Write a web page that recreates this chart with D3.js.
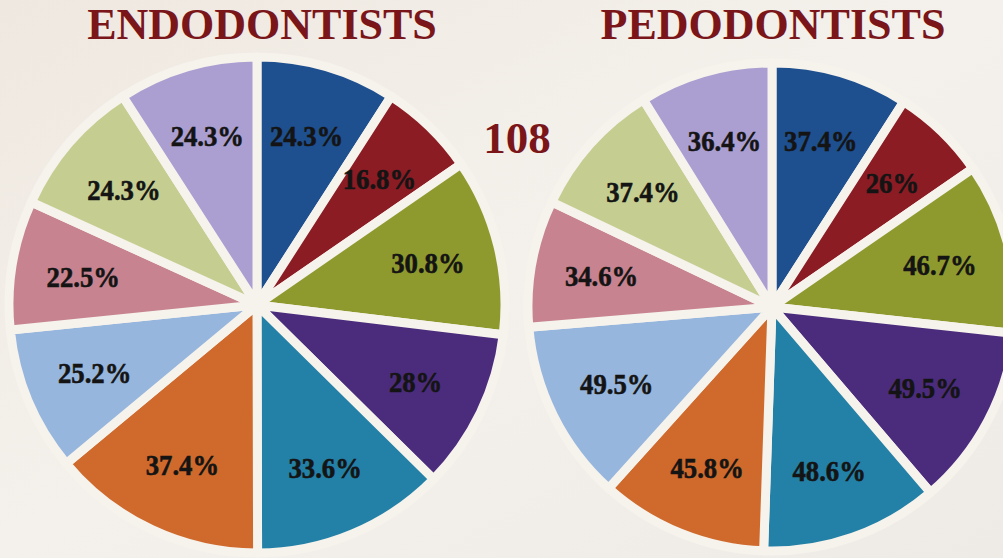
<!DOCTYPE html>
<html>
<head>
<meta charset="utf-8">
<script src="https://cdn.jsdelivr.net/npm/d3@7"></script>
<style>
  html, body { margin: 0; padding: 0; background: #f1ece6; }
  svg { display: block; }
</style>
</head>
<body>
<svg id="chart" width="1003" height="558"></svg>
<script>
// ---- data ----
const categories = ["c1", "c2", "c3", "c4", "c5", "c6", "c7", "c8", "c9", "c10"];
const endoValues = [24.3, 16.8, 30.8, 28, 33.6, 37.4, 25.2, 22.5, 24.3, 24.3];
const pedoValues = [37.4, 26, 46.7, 49.5, 48.6, 45.8, 49.5, 34.6, 37.4, 36.4];
const titles = ["ENDODONTISTS", "PEDODONTISTS"];
const centerNote = "108";
const palette = ["#1e4f8e", "#8b1c24", "#8f9a2e", "#4b2c7c", "#2380a6",
                 "#cf6a2c", "#97b6dd", "#c7838f", "#c5ce90", "#ab9fd2"];

// ---- drawing ----
const svg = d3.select("#chart");
const W = 1003, H = 558;
const serif = "'Liberation Serif', 'Times New Roman', Times, serif";

const defs = svg.append("defs");
const bg = defs.append("linearGradient").attr("id", "bg")
  .attr("x1", "0").attr("y1", "0").attr("x2", "1").attr("y2", "1");
bg.append("stop").attr("offset", "0").attr("stop-color", "#efe8e0");
bg.append("stop").attr("offset", "0.5").attr("stop-color", "#f4f1ec");
bg.append("stop").attr("offset", "1").attr("stop-color", "#eeeae6");
svg.append("rect").attr("width", W).attr("height", H).attr("fill", "url(#bg)");

const color = d3.scaleOrdinal().domain(categories).range(palette);
const pie = d3.pie().sort(null).value(d => d.v);

const pies = [
  { values: endoValues, cx: 257, cy: 305, r: 248, title: titles[0], tx: 262 },
  { values: pedoValues, cx: 772, cy: 307, r: 244, title: titles[1], tx: 773 }
];

pies.forEach(p => {
  const data = categories.map((c, i) => ({ c, v: p.values[i] }));
  const arcs = pie(data);
  const arc = d3.arc().innerRadius(0).outerRadius(p.r);
  const labelArc = d3.arc().innerRadius(p.r * 0.71).outerRadius(p.r * 0.71);
  const g = svg.append("g").attr("transform", `translate(${p.cx},${p.cy})`);

  g.selectAll("path.slice").data(arcs).join("path")
    .attr("class", "slice")
    .attr("d", arc)
    .attr("fill", d => color(d.data.c))
    .attr("stroke", "#f6f2ec")
    .attr("stroke-width", 9)
    .attr("stroke-linejoin", "round");

  g.selectAll("text.lbl").data(arcs).join("text")
    .attr("class", "lbl")
    .attr("transform", d => `translate(${labelArc.centroid(d)}) scale(0.92,1)`)
    .attr("text-anchor", "middle")
    .attr("dy", "0.35em")
    .attr("font-family", serif)
    .attr("font-weight", "bold")
    .attr("font-size", 29)
    .attr("fill", "#141414")
    .attr("stroke", "#141414")
    .attr("stroke-width", 0.6)
    .text(d => d.data.v + "%");

  svg.append("text")
    .attr("x", p.tx).attr("y", 39)
    .attr("text-anchor", "middle")
    .attr("font-family", serif)
    .attr("font-weight", "bold")
    .attr("font-size", 44)
    .attr("fill", "#7a1519")
    .text(p.title);
});

svg.append("text")
  .attr("x", 517).attr("y", 153)
  .attr("text-anchor", "middle")
  .attr("font-family", serif)
  .attr("font-weight", "bold")
  .attr("font-size", 45)
  .attr("fill", "#7a1519")
  .text(centerNote);
</script>
</body>
</html>
